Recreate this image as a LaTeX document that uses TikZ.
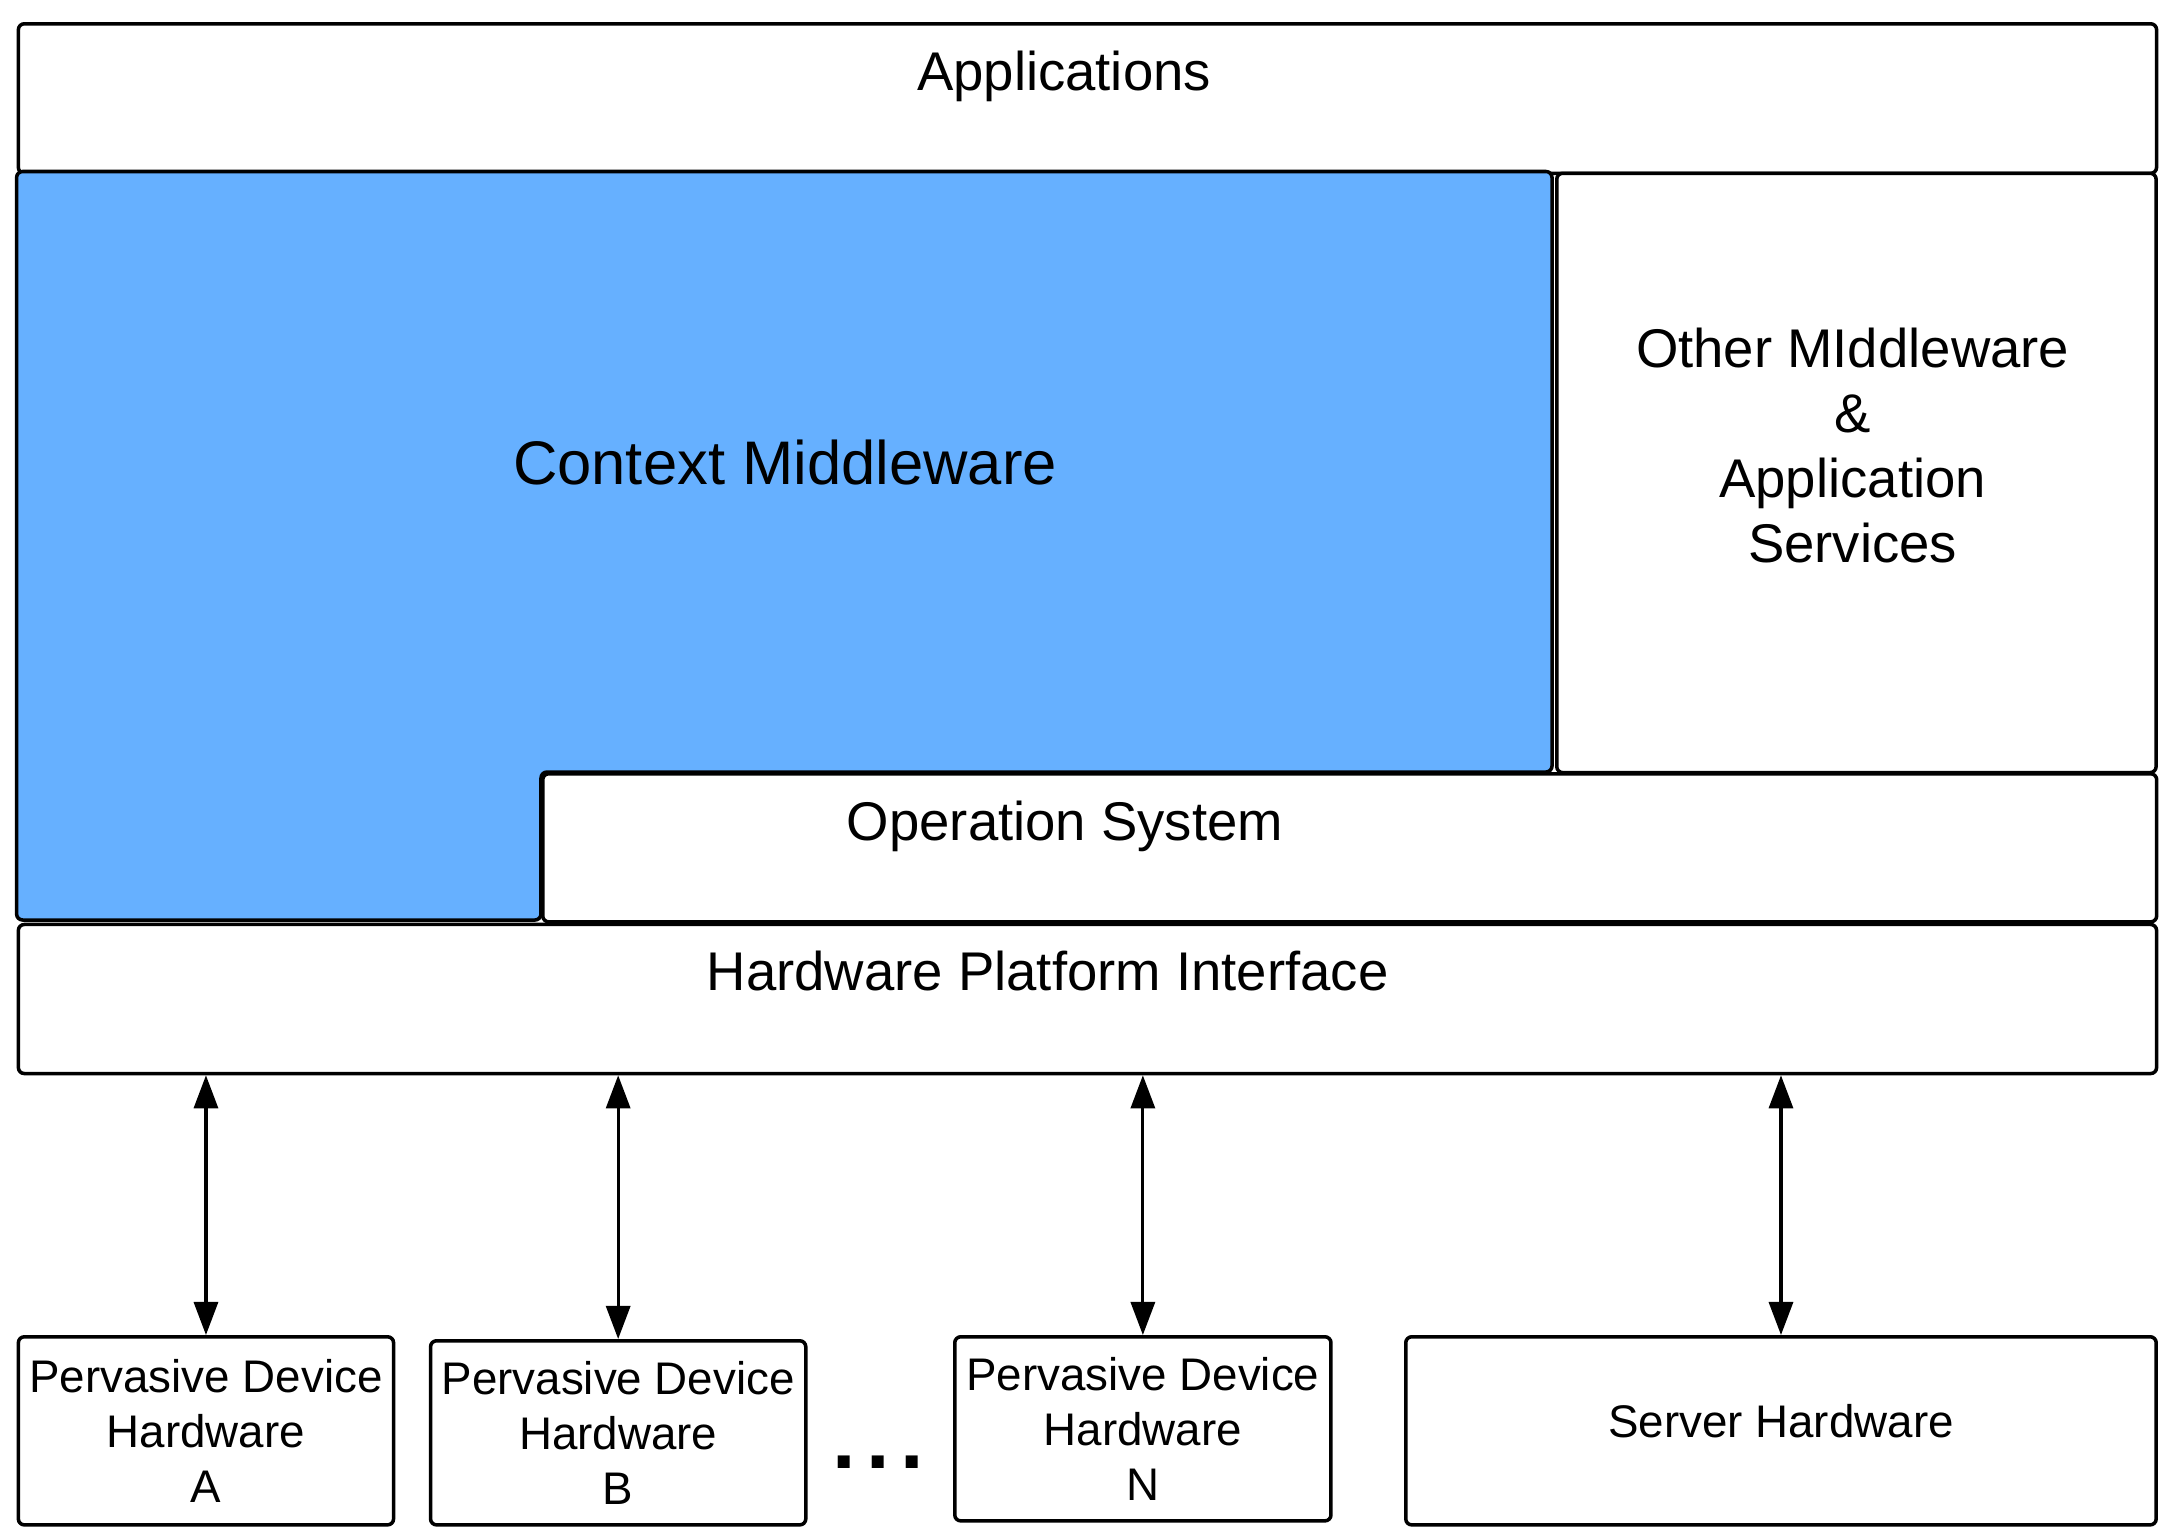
\documentclass[tikz,border=0pt]{standalone}
\usepackage{fontspec}
\setmainfont{Liberation Sans}
\usepackage{tikz}
\usepackage{xcolor}
\usetikzlibrary{arrows.meta}
\definecolor{ctxblue}{RGB}{102,176,255}

\begin{document}
\begin{tikzpicture}[x=0.01cm,y=-0.01cm]
		\tikzstyle{layer}=[draw,line width=1pt,rounded corners=0.06cm,fill=white,inner sep=0pt,anchor=north west]
		\tikzstyle{device}=[layer,align=center,font=\fontsize{13}{15.6}\selectfont]
		\tikzstyle{title}=[inner sep=0pt,anchor=base,font=\fontsize{15.5}{18.5}\selectfont]
		\tikzstyle{link}=[line width=0.9pt,{Triangle[length=0.33cm,width=0.24cm]}-{Triangle[length=0.33cm,width=0.24cm]}]
		\useasboundingbox (0,0) rectangle (2169,1539);
		
		\node [layer,minimum width=21.37cm,minimum height=1.495cm] (apps) at (16.6,22) {};
		\draw [line width=1pt,rounded corners=0.06cm,fill=ctxblue] (16.6,171.5) -- (1552,171.5) -- (1552,772) -- (541,772) -- (541,920) -- (16.6,920) -- cycle;
		\node [layer,minimum width=5.99cm,minimum height=5.99cm] (other) at (1555,171.5) {};
		\node [layer,minimum width=16.13cm,minimum height=1.48cm] (os) at (541,772) {};
		\node [layer,minimum width=21.37cm,minimum height=1.49cm] (hpi) at (16.6,922.7) {};
		
		\node [device,minimum width=3.75cm,minimum height=1.88cm] (pdA) at (16.6,1335) {Pervasive Device\\Hardware\\A};
		\node [device,minimum width=3.75cm,minimum height=1.84cm] (pdB) at (428.8,1339) {Pervasive Device\\Hardware\\B};
		\node [device,minimum width=3.76cm,minimum height=1.84cm] (pdN) at (953,1335) {Pervasive Device\\Hardware\\N};
		\node [device,minimum width=7.5cm,minimum height=1.88cm,text depth=0.19cm] (server) at (1404,1335) {Server Hardware};
		\node [inner sep=0pt,font=\bfseries\fontsize{24}{24}\selectfont] (more) at (878.5,1462) {.\kern3pt.\kern3pt.};
		
		\foreach \d in {pdA,pdB,pdN,server}
			\draw [link] (hpi.south -| \d.north) -- (\d.north);
		
		\node [title] (appsT) at (1064,90) {Applications};
		\node [title,font=\fontsize{17.5}{21}\selectfont] (ctxT) at (785,484) {Context Middleware};
		\node [title,anchor=center,align=center] (otherT) at (1852.6,445.5) {Other MIddleware\\\&\\Application\\Services};
		\node [title] (osT) at (1065,840) {Operation System};
		\node [title] (hpiT) at (1047.6,990) {Hardware Platform Interface};
\end{tikzpicture}
\end{document}
